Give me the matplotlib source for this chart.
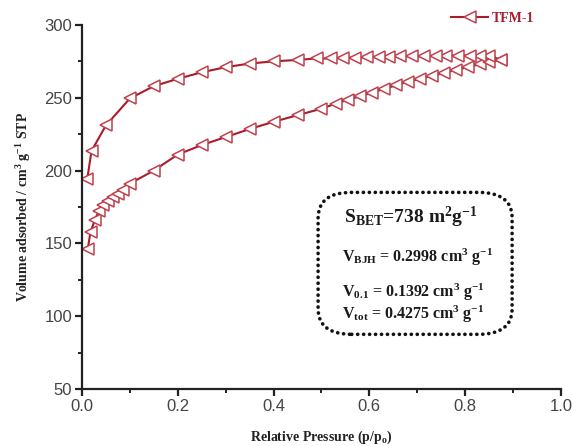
import matplotlib
matplotlib.use("Agg")
import matplotlib.pyplot as plt
from matplotlib.patches import FancyBboxPatch
from matplotlib.ticker import MultipleLocator

plt.rcParams['mathtext.default'] = 'regular'

# Adsorption branch (lower)
ads_p = [0.012, 0.018, 0.027, 0.035, 0.044, 0.054, 0.064, 0.075, 0.086, 0.10,
         0.15, 0.20, 0.25, 0.30, 0.35, 0.40, 0.45, 0.50, 0.53, 0.555, 0.58,
         0.605, 0.63, 0.655, 0.68, 0.705, 0.73, 0.755, 0.78, 0.805, 0.83, 0.85, 0.875]
ads_v = [146, 158, 166, 172, 176.5, 179, 181.5, 184, 186.5, 191,
         200, 211, 217.5, 223, 228.5, 233.5, 238, 242.5, 246, 248.5, 251,
         253.5, 256, 258.5, 261, 263, 265, 267, 269, 271, 273, 274.5, 276]
# Desorption branch (upper)
des_p = [0.875, 0.85, 0.83, 0.81, 0.785, 0.76, 0.74, 0.715, 0.69, 0.665, 0.64,
         0.62, 0.595, 0.57, 0.545, 0.52, 0.49, 0.45, 0.40, 0.35, 0.30, 0.25,
         0.20, 0.15, 0.10, 0.05, 0.02, 0.011]
des_v = [276, 279, 279, 279, 279, 279, 279, 278.5, 278.5, 278.5, 278,
         278, 278, 277.5, 277.5, 277, 277, 276, 275, 273.5, 271, 267.5,
         263, 258, 249.5, 231, 213.5, 194]

series_label = "TFM-1"
xticks = [0.0, 0.2, 0.4, 0.6, 0.8, 1.0]
yticks = [50, 100, 150, 200, 250, 300]

red = '#a81c2c'
serif = 'Liberation Serif'
sans = 'Liberation Sans'

fig = plt.figure(figsize=(5.73, 4.46), dpi=100)
ax = fig.add_axes([0.143, 0.128, 0.836, 0.816])

mk = dict(marker='<', markersize=8, markerfacecolor='white',
          markeredgecolor='#c0404c', markeredgewidth=1.1, color=red, lw=1.5)
ax.plot(ads_p, ads_v, **mk)
ax.plot(des_p, des_v, label=series_label, **mk)

ax.set_xlim(0, 1.0)
ax.set_ylim(50, 300)
ax.set_xticks(xticks)
ax.set_yticks(yticks)
ax.xaxis.set_minor_locator(MultipleLocator(0.1))
ax.yaxis.set_minor_locator(MultipleLocator(25))
for s in ['top', 'right']:
    ax.spines[s].set_visible(False)
for s in ['left', 'bottom']:
    ax.spines[s].set_linewidth(1.6)
    ax.spines[s].set_color('#222222')
ax.tick_params(which='major', direction='out', length=5, width=1.6,
               labelsize=12, colors='#222222', labelcolor='#444444', pad=2)
ax.tick_params(which='minor', direction='out', length=3, width=1.4, colors='#222222')
for lab in ax.get_xticklabels() + ax.get_yticklabels():
    lab.set_fontfamily(sans)

ax.set_xlabel('Relative Pressure (p/p$_o$)', fontfamily=serif, fontweight='bold',
              fontsize=10, color='#222222', labelpad=11)
ax.set_ylabel('Volume adsorbed / cm$^3$ g$^{-1}$ STP', fontfamily=serif,
              fontweight='bold', fontsize=10, color='#222222', labelpad=8)

leg = fig.legend(loc='center', bbox_to_anchor=(0.86, 0.958), frameon=False,
                 handlelength=2.6, handletextpad=0.3,
                 prop={'family': serif, 'weight': 'bold', 'size': 10})
for t in leg.get_texts():
    t.set_color(red)

box = FancyBboxPatch((0.493, 0.15), 0.405, 0.39, transform=ax.transAxes,
                     boxstyle='round,pad=0,rounding_size=0.07',
                     fill=False, linestyle=(0, (0.05, 1.6)), linewidth=2.6,
                     edgecolor='#111111')
box.set_capstyle('round')
ax.add_patch(box)
tk = dict(transform=ax.transAxes, fontfamily=serif, fontweight='bold',
          color='#1a1a1a', va='center', ha='left')
ax.text(0.548, 0.47, 'S$_{BET}$=738 m$^2$g$^{-1}$', fontsize=14, **tk)
ax.text(0.543, 0.362, 'V$_{BJH}$ = 0.2998 cm$^3$ g$^{-1}$', fontsize=11.5, **tk)
ax.text(0.543, 0.266, 'V$_{0.1}$ = 0.1392 cm$^3$ g$^{-1}$', fontsize=11.5, **tk)
ax.text(0.543, 0.205, 'V$_{tot}$ = 0.4275 cm$^3$ g$^{-1}$', fontsize=11.5, **tk)

fig.savefig('out.png', dpi=100)
